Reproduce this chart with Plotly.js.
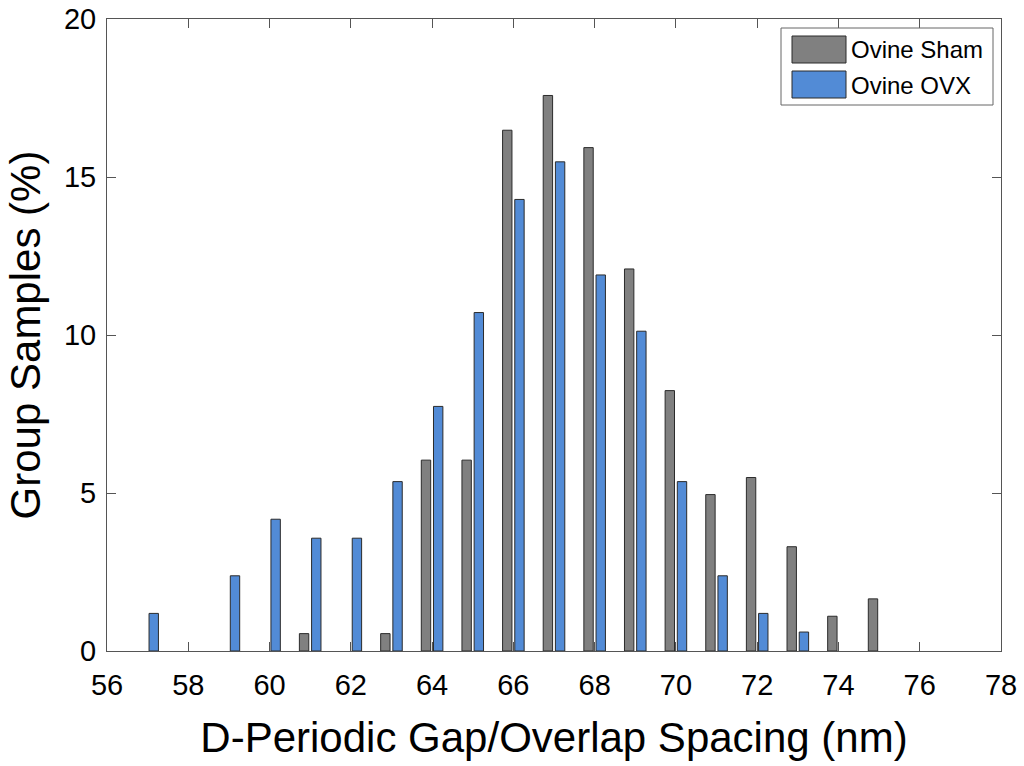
<!DOCTYPE html>
<html>
<head>
<meta charset="utf-8">
<script src="https://cdn.plot.ly/plotly-3.0.1.min.js"></script>
<style>
html,body{margin:0;padding:0;background:#fff;}
#chart{width:1024px;height:766px;}
</style>
</head>
<body>
<div id="chart"></div>
<script>
// D-periodic spacing bins (nm)
const shamSpacing = [61, 63, 64, 65, 66, 67, 68, 69, 70, 71, 72, 73, 74, 75];
const shamPercent = [0.55, 0.55, 6.04, 6.04, 16.48, 17.58, 15.93, 12.09, 8.24, 4.95, 5.49, 3.30, 1.10, 1.65];
const ovxSpacing = [57, 59, 60, 61, 62, 63, 64, 65, 66, 67, 68, 69, 70, 71, 72, 73];
const ovxPercent = [1.19, 2.38, 4.17, 3.57, 3.57, 5.36, 7.74, 10.71, 14.29, 15.48, 11.90, 10.12, 5.36, 2.38, 1.19, 0.60];
const seriesNames = ["Ovine Sham", "Ovine OVX"];
const seriesColors = ["#808080", "#528bd6"];
const xTicks = [56, 58, 60, 62, 64, 66, 68, 70, 72, 74, 76, 78];
const yTicks = [0, 5, 10, 15, 20];

const FONT = "Liberation Sans, Arial, Helvetica, sans-serif";
const W = 1024, H = 766;
const M = {l: 107, r: 23, t: 19, b: 115};
const PW = W - M.l - M.r, PH = H - M.t - M.b;
// pixel -> paper helpers (for legend box only)
const px = v => (v - M.l) / PW;
const py = v => (H - M.b - v) / PH;

const traces = [
  {
    type: "bar", name: seriesNames[0], x: shamSpacing, y: shamPercent,
    marker: {color: seriesColors[0], line: {color: "#2b2b2b", width: 1}}
  },
  {
    type: "bar", name: seriesNames[1], x: ovxSpacing, y: ovxPercent,
    marker: {color: seriesColors[1], line: {color: "#2b2b2b", width: 1}}
  }
];

// Custom legend (large swatches, as in the original figure)
const legendShapes = [
  {type: "rect", xref: "paper", yref: "paper", x0: px(781), x1: px(993), y0: py(28), y1: py(105),
   line: {color: "#666", width: 1}, fillcolor: "#fff", layer: "above"},
  {type: "rect", xref: "paper", yref: "paper", x0: px(792), x1: px(846), y0: py(36), y1: py(63),
   line: {color: "#2b2b2b", width: 1}, fillcolor: seriesColors[0], layer: "above"},
  {type: "rect", xref: "paper", yref: "paper", x0: px(792), x1: px(846), y0: py(71), y1: py(98),
   line: {color: "#2b2b2b", width: 1}, fillcolor: seriesColors[1], layer: "above"}
];
const legendTexts = [
  {xref: "paper", yref: "paper", x: px(849), y: py(49.5), xanchor: "left", yanchor: "middle",
   text: seriesNames[0], showarrow: false, font: {family: FONT, size: 24, color: "#000"}},
  {xref: "paper", yref: "paper", x: px(849), y: py(85), xanchor: "left", yanchor: "middle",
   text: seriesNames[1], showarrow: false, font: {family: FONT, size: 24, color: "#000"}}
];

const axisCommon = {
  showline: true, mirror: "ticks", linecolor: "#555", linewidth: 1,
  ticks: "inside", ticklen: 9, tickcolor: "#555", tickwidth: 1,
  showgrid: false, zeroline: false,
  tickfont: {family: FONT, size: 29, color: "#000"}
};

const layout = {
  width: W, height: H,
  margin: M,
  paper_bgcolor: "#fff", plot_bgcolor: "#fff",
  barmode: "group", bargap: 0.4, bargroupgap: 0.23,
  showlegend: false,
  shapes: legendShapes,
  annotations: legendTexts,
  xaxis: Object.assign({}, axisCommon, {
    range: [56, 78], tickmode: "array", tickvals: xTicks, ticktext: xTicks.map(String),
    ticklabelstandoff: 8,
    title: {text: "D-Periodic Gap/Overlap Spacing (nm)", font: {family: FONT, size: 42, color: "#000"}, standoff: 22}
  }),
  yaxis: Object.assign({}, axisCommon, {
    range: [0, 20], tickmode: "array", tickvals: yTicks, ticktext: yTicks.map(String),
    ticklabelstandoff: 4,
    title: {text: "Group Samples (%)", font: {family: FONT, size: 42, color: "#000"}, standoff: 10}
  })
};

Plotly.newPlot("chart", traces, layout, {displayModeBar: false, staticPlot: true});
</script>
</body>
</html>
